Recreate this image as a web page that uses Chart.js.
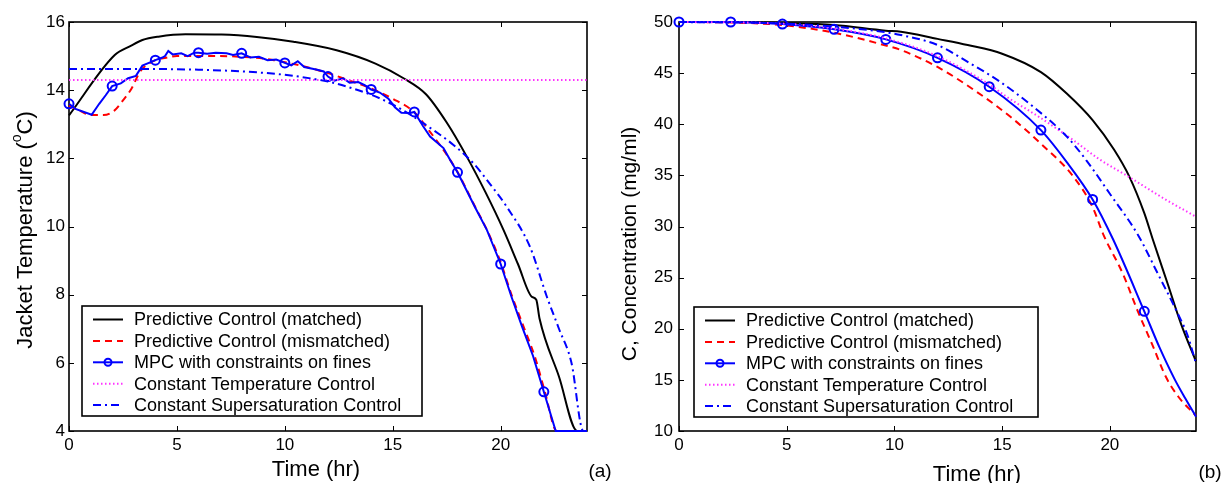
<!DOCTYPE html>
<html>
<head>
<meta charset="utf-8">
<script src="https://cdn.jsdelivr.net/npm/chart.js@4.4.1/dist/chart.umd.min.js"></script>
<style>
html, body { margin: 0; padding: 0; background: #fff; }
#wrap { position: relative; width: 1224px; height: 483px; }
canvas { position: absolute; top: 0; }
</style>
</head>
<body>
<div id="wrap">
  <canvas id="left" width="612" height="483" style="left:0"></canvas>
  <canvas id="right" width="612" height="483" style="left:612px"></canvas>
</div>
<script>
// ---- data ----
const timeTicks = [0, 5, 10, 15, 20];
const tempTicks = [4, 6, 8, 10, 12, 14, 16];
const concTicks = [10, 15, 20, 25, 30, 35, 40, 45, 50];

const seriesLabels = [
    'Predictive Control (matched)',
    'Predictive Control (mismatched)',
    'MPC with constraints on fines',
    'Constant Temperature Control',
    'Constant Supersaturation Control',
];

// (a) jacket temperature
const matchedT = [0, 2.12, 2.86, 3.4, 4.14, 5.4, 7.07, 8.7, 10.4, 12.4, 14.2, 15.5, 16.54, 17.5, 18.43, 19.3, 20.13, 20.8, 21.44, 21.65, 21.8, 22.7, 23.55, 24];
const matchedTemp = [13.26, 15.03, 15.3, 15.47, 15.57, 15.64, 15.63, 15.56, 15.42, 15.17, 14.78, 14.35, 13.88, 13.05, 12.05, 11.0, 9.9, 8.9, 7.94, 7.85, 7.3, 5.6, 4.0, 4.0];

const mismatchedT = [0, 0.5, 1, 1.6, 2.1, 2.5, 2.9, 3.3, 3.9, 4.5, 5, 6, 7, 8, 9, 9.5, 10, 11, 12, 13, 14, 15, 16, 16.7, 17.4, 18, 18.8, 19.4, 20, 20.5, 21.1, 21.6, 22.05, 22.6, 24];
const mismatchedTemp = [13.55, 13.4, 13.27, 13.27, 13.4, 13.7, 14.05, 14.55, 14.85, 14.95, 15.0, 15.0, 15.0, 14.98, 14.93, 14.88, 14.82, 14.68, 14.5, 14.28, 14.05, 13.75, 13.35, 12.8, 12.2, 11.6, 10.6, 9.85, 8.95, 8.0, 7.0, 6.15, 5.15, 4.0, 4.0];

const mpcT = [0, 0.3, 1.05, 1.4, 1.7, 2, 2.4, 2.74, 3.1, 3.4, 3.7, 4, 4.3, 4.45, 4.6, 4.8, 5.2, 5.5, 5.8, 6, 6.4, 6.8, 7.3, 7.6, 8, 8.4, 8.8, 9.2, 9.6, 10, 10.3, 10.6, 10.9, 11.5, 11.8, 12, 12.3, 12.7, 13, 13.4, 13.7, 14, 14.4, 14.8, 15.1, 15.4, 15.8, 16, 16.4, 16.73, 17.35, 17.66, 18, 18.8, 19.36, 20, 20.5, 21, 21.5, 22, 22.55, 24];
const mpcTemp = [13.6, 13.45, 13.28, 13.6, 13.85, 14.12, 14.2, 14.35, 14.42, 14.72, 14.8, 14.88, 14.95, 15.0, 15.15, 15.05, 15.08, 15.0, 15.1, 15.1, 15.07, 15.1, 15.08, 15.03, 15.08, 14.96, 14.98, 14.88, 14.9, 14.8, 14.73, 14.85, 14.68, 14.6, 14.55, 14.4, 14.28, 14.35, 14.22, 14.24, 14.15, 14.02, 13.93, 13.75, 13.5, 13.34, 13.33, 13.36, 12.95, 12.64, 12.3, 11.95, 11.59, 10.58, 9.9, 8.9, 7.94, 7.05, 6.2, 5.15, 4.0, 4.0];
const mpcMarksA = [0, 2, 4, 6, 8, 10, 12, 14, 16, 18, 20, 22];

const constTempT = [0, 24];
const constTempTemp = [14.3, 14.3];

const superSatT = [0, 4, 6, 8, 10, 12, 13, 14.4, 15.5, 16.88, 17.8, 18.74, 19.5, 20.28, 21.36, 22.14, 22.7, 23.28, 23.83, 24];
const superSatTemp = [14.62, 14.62, 14.6, 14.55, 14.45, 14.25, 14.08, 13.76, 13.4, 12.83, 12.4, 11.85, 11.25, 10.58, 9.4, 7.94, 7.0, 6.0, 4.0, 4.0];

// (b) concentration
const matchedCT = [0, 2.4, 4.8, 7.2, 9.6, 10.3, 12, 13.4, 15, 16.8, 18, 19.2, 20.2, 20.9, 21.6, 22, 22.7, 23.3, 24];
const matchedConc = [50, 50, 49.9, 49.7, 49.15, 49.05, 48.35, 47.75, 46.9, 45.1, 43.0, 40.4, 37.5, 34.9, 31.3, 28.7, 24.3, 20.5, 16.8];

const mismatchedCT = [0, 2.4, 4.8, 7.2, 9.6, 10.3, 12, 13.8, 15.4, 16.8, 18.3, 19.2, 19.7, 20.6, 21.3, 22, 22.6, 23.2, 24];
const mismatchedConc = [50, 49.95, 49.7, 48.95, 47.7, 47.26, 45.6, 43.2, 40.7, 38.1, 34.9, 31.9, 29.2, 25.4, 21.7, 18.3, 15.3, 13.3, 11.5];

const mpcCT = [0, 2.4, 4.8, 7.2, 9.6, 12, 14.4, 16.8, 18, 19.2, 20.16, 21.6, 22.3, 23, 23.5, 24];
const mpcConc = [50, 50, 49.8, 49.28, 48.3, 46.5, 43.67, 39.43, 36.3, 32.65, 28.7, 21.7, 18.2, 15.1, 13.2, 11.4];
const mpcMarksB = [0, 2.4, 4.8, 7.2, 9.6, 12, 14.4, 16.8, 19.2, 21.6];

const constTempCT = [0, 4.8, 7.2, 9.6, 12, 14.4, 15.2, 16.8, 18.3, 19.5, 21, 22.5, 24];
const constTempConc = [50, 49.85, 49.35, 48.4, 46.65, 43.9, 42.7, 40.6, 38.45, 36.6, 34.7, 32.75, 30.95];

const superSatCT = [0, 4.8, 7.2, 9.6, 10.3, 12, 13.4, 14.9, 16.45, 18, 18.9, 20, 21.3, 22.2, 23.15, 23.6, 24];
const superSatConc = [50, 49.85, 49.55, 49.0, 48.73, 47.75, 46.1, 44.16, 41.7, 38.8, 36.5, 33.2, 29.2, 25.5, 21.5, 19.4, 16.6];

// ---- helpers ----
const FONT = 'Liberation Sans, Arial, Helvetica, sans-serif';
Chart.defaults.font.family = FONT;
Chart.defaults.color = '#000';

const pts = (xs, ys) => xs.map((x, i) => ({x: x, y: ys[i]}));

const styles = [
    {color: '#000000', dash: [], width: 2},
    {color: '#ff0000', dash: [7, 5], width: 2},
    {color: '#0000ff', dash: [], width: 2},
    {color: '#ff33ff', dash: [1.5, 2.5], width: 2},
    {color: '#0000ff', dash: [8, 4, 2, 4], width: 2},
];

const buildSets = (curves, marks, smooth) => curves.map((c, i) => {
    const st = styles[i];
    return {
        label: seriesLabels[i],
        data: pts(c[0], c[1]),
        borderColor: st.color,
        borderDash: st.dash,
        borderWidth: st.width,
        cubicInterpolationMode: (smooth || i !== 2) ? 'monotone' : 'default',
        tension: 0,
        fill: false,
        clip: false,
        order: 5 - i,
        pointStyle: 'circle',
        pointBorderColor: st.color,
        pointBackgroundColor: 'rgba(0,0,0,0)',
        pointBorderWidth: 2,
        pointRadius: (ctx) => {
            if (i !== 2 || !ctx.raw) {
                return 0;
            }
            return marks.some(m => Math.abs(m - ctx.raw.x) < 1e-6) ? 4.5 : 0;
        },
        hasMarker: i === 2,
    };
});

// box with inward ticks on all four sides, drawn under the curves
const axesBox = {
    id: 'axesBox',
    beforeDatasetsDraw(chart) {
        const {ctx, chartArea: a, scales: {x, y}} = chart;
        ctx.save();
        ctx.strokeStyle = '#000';
        ctx.lineWidth = 1;
        ctx.beginPath();
        x.ticks.forEach(t => {
            const px = Math.round(x.getPixelForValue(t.value)) + 0.5;
            ctx.moveTo(px, a.bottom); ctx.lineTo(px, a.bottom - 5);
            ctx.moveTo(px, a.top); ctx.lineTo(px, a.top + 5);
        });
        y.ticks.forEach(t => {
            const py = Math.round(y.getPixelForValue(t.value)) + 0.5;
            ctx.moveTo(a.left, py); ctx.lineTo(a.left + 5, py);
            ctx.moveTo(a.right, py); ctx.lineTo(a.right - 5, py);
        });
        ctx.stroke();
        ctx.lineWidth = 1.6;
        ctx.strokeRect(a.left, a.top, a.right - a.left, a.bottom - a.top);
        ctx.restore();
    },
};

// legend box inside the axes
const boxLegend = {
    id: 'boxLegend',
    afterDatasetsDraw(chart, args, opts) {
        const {ctx} = chart;
        ctx.save();
        ctx.fillStyle = '#fff';
        ctx.fillRect(opts.x, opts.y, opts.w, opts.h);
        ctx.strokeStyle = '#000';
        ctx.lineWidth = 1.6;
        ctx.strokeRect(opts.x, opts.y, opts.w, opts.h);
        ctx.font = '18px ' + FONT;
        ctx.textBaseline = 'middle';
        chart.data.datasets.forEach((ds, i) => {
            const cy = opts.y + 13.5 + i * 21.4;
            const x0 = opts.x + 11;
            const x1 = opts.x + 41;
            ctx.strokeStyle = ds.borderColor;
            ctx.lineWidth = ds.borderWidth;
            ctx.setLineDash(ds.borderDash);
            ctx.beginPath();
            ctx.moveTo(x0, cy);
            ctx.lineTo(x1, cy);
            ctx.stroke();
            ctx.setLineDash([]);
            if (ds.hasMarker) {
                ctx.lineWidth = 2;
                ctx.beginPath();
                ctx.arc((x0 + x1) / 2, cy, 3.5, 0, Math.PI * 2);
                ctx.stroke();
            }
            ctx.fillStyle = '#000';
            ctx.fillText(ds.label, opts.x + 52, cy + 1);
        });
        ctx.restore();
    },
};

// axis titles and panel tags
const axisText = {
    id: 'axisText',
    afterDraw(chart, args, opts) {
        const {ctx} = chart;
        opts.items.forEach(it => {
            ctx.save();
            ctx.translate(it.x, it.y);
            if (it.rot) {
                ctx.rotate(it.rot);
            }
            ctx.fillStyle = '#000';
            ctx.textBaseline = 'middle';
            const big = it.size + 'px ' + FONT;
            const small = Math.round(it.size * 0.62) + 'px ' + FONT;
            let total = 0;
            it.parts.forEach(p => {
                ctx.font = p.sup ? small : big;
                total += ctx.measureText(p.t).width;
            });
            let cx = -total / 2;
            it.parts.forEach(p => {
                ctx.font = p.sup ? small : big;
                ctx.fillText(p.t, cx, p.sup ? -it.size * 0.38 : 0);
                cx += ctx.measureText(p.t).width;
            });
            ctx.restore();
        });
    },
};

const makeChart = (id, sets, yMin, yMax, yTicks, cfg) => new Chart(document.getElementById(id), {
    type: 'line',
    data: {datasets: sets},
    options: {
        responsive: false,
        devicePixelRatio: 1,
        animation: false,
        parsing: false,
        layout: {padding: {left: 0, right: cfg.padRight, top: 22, bottom: 0}},
        scales: {
            x: {
                type: 'linear', min: 0, max: 24,
                afterBuildTicks: (s) => { s.ticks = timeTicks.map(v => ({value: v})); },
                afterFit: (s) => { s.height = 52; },
                ticks: {font: {size: 17}, padding: 4, maxRotation: 0, autoSkip: false, color: '#000'},
                grid: {display: false, drawTicks: false},
                border: {display: false},
            },
            y: {
                type: 'linear', min: yMin, max: yMax,
                afterBuildTicks: (s) => { s.ticks = yTicks.map(v => ({value: v})); },
                afterFit: (s) => { s.width = cfg.yWidth; },
                ticks: {font: {size: 17}, padding: cfg.yPad, autoSkip: false, color: '#000'},
                grid: {display: false, drawTicks: false},
                border: {display: false},
            },
        },
        plugins: {
            legend: {display: false},
            tooltip: {enabled: false},
            boxLegend: cfg.legend,
            axisText: {items: cfg.texts},
        },
    },
    plugins: [axesBox, boxLegend, axisText],
});

makeChart('left', buildSets([
    [matchedT, matchedTemp],
    [mismatchedT, mismatchedTemp],
    [mpcT, mpcTemp],
    [constTempT, constTempTemp],
    [superSatT, superSatTemp],
], mpcMarksA, false), 4, 16, tempTicks, {
    padRight: 25,
    yWidth: 69,
    yPad: 4,
    legend: {x: 82, y: 306, w: 340, h: 110},
    texts: [
        {parts: [{t: 'Time (hr)'}], x: 316, y: 470, size: 22},
        {parts: [{t: '(a)'}], x: 600, y: 472, size: 19},
        {parts: [{t: 'Jacket Temperature ('}, {t: 'o', sup: true}, {t: 'C)'}], x: 26, y: 230, size: 22, rot: -Math.PI / 2},
    ],
});

makeChart('right', buildSets([
    [matchedCT, matchedConc],
    [mismatchedCT, mismatchedConc],
    [mpcCT, mpcConc],
    [constTempCT, constTempConc],
    [superSatCT, superSatConc],
], mpcMarksB, true), 10, 50, concTicks, {
    padRight: 28,
    yWidth: 67,
    yPad: 6,
    legend: {x: 82, y: 307, w: 344, h: 110},
    texts: [
        {parts: [{t: 'Time (hr)'}], x: 365, y: 475, size: 22},
        {parts: [{t: '(b)'}], x: 598, y: 473, size: 19},
        {parts: [{t: 'C, Concentration (mg/ml)'}], x: 18, y: 244, size: 21, rot: -Math.PI / 2},
    ],
});
</script>
</body>
</html>
